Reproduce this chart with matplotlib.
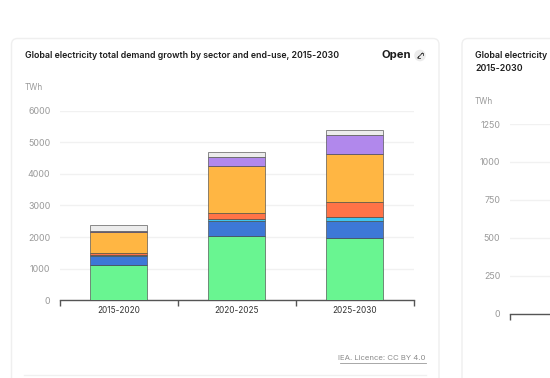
import matplotlib
matplotlib.use("Agg")
import matplotlib.pyplot as plt
from matplotlib.patches import FancyBboxPatch

plt.rcParams["font.family"] = ["Inter", "DejaVu Sans"]

W = 550
H = 378

periods = ["2015-2020", "2020-2025", "2025-2030"]
# stacked segment heights, bottom to top, TWh
green = [1130, 2040, 1960]
blue = [270, 460, 550]
cyan = [20, 80, 130]
red = [90, 190, 470]
yellow = [640, 1490, 1500]
purple = [50, 270, 620]
grey = [170, 170, 160]
segments = [green, blue, cyan, red, yellow, purple, grey]
colors = ["#69f591", "#3d78d6", "#3fc4ee", "#ff7347", "#ffb643", "#b188ec", "#ececec"]

yticks1 = [0, 1000, 2000, 3000, 4000, 5000, 6000]
yticks2 = [0, 250, 500, 750, 1000, 1250]

title1 = "Global electricity total demand growth by sector and end-use, 2015-2030"
title2 = ["Global electricity", "2015-2030"]


def px_axes(fig, x0, y0, x1, y1):
    # axes from pixel box, y measured from the top
    return fig.add_axes([x0 / W, 1 - y1 / H, (x1 - x0) / W, (y1 - y0) / H])


def style_axis(ax, ticks, top):
    ax.set_ylim(0, top)
    ax.set_yticks(ticks)
    ax.set_facecolor("none")
    for s in ["top", "left", "right"]:
        ax.spines[s].set_visible(False)
    ax.spines["bottom"].set_color("#555555")
    ax.spines["bottom"].set_linewidth(1)
    ax.grid(axis="y", color="#f1f1f1", linewidth=1)
    ax.set_axisbelow(True)
    ax.tick_params(axis="y", length=0, pad=6.5, labelsize=6.4, labelcolor="#9a9a9a")
    ax.tick_params(axis="x", length=4.5, width=1, color="#555555")


fig = plt.figure(figsize=(W / 100, H / 100), dpi=100)

bg = fig.add_axes([0, 0, 1, 1])
bg.set_xlim(0, W)
bg.set_ylim(H, 0)
bg.axis("off")
for x0, x1 in [(11.5, 439), (462, 700)]:
    bg.add_patch(FancyBboxPatch((x0, 38.5), x1 - x0, 400, boxstyle="round,pad=0,rounding_size=6",
                                facecolor="white", edgecolor="#efefef", linewidth=1))
bg.plot([24, 426], [374.5, 374.5], color="#f0f0f0", linewidth=1)

bg.text(25, 55.5, title1, fontsize=6.35, fontweight="semibold", color="#1c1c1c", va="center")
bg.text(382, 55.5, "Open", fontsize=8.1, fontweight="bold", color="#1c1c1c", va="center")

# expand icon: grey dot with two small corner arrows
bg.add_patch(plt.Circle((420, 55.5), 5.8, color="#ececec", linewidth=0))
bg.plot([417.5, 422.5], [58, 53], color="#333333", linewidth=0.6)
bg.plot([420.5, 422.5, 422.5], [53, 53, 55], color="#333333", linewidth=0.6)
bg.plot([417.5, 417.5, 419.5], [56, 58, 58], color="#333333", linewidth=0.6)

bg.text(25, 87.5, "TWh", fontsize=5.9, color="#9a9a9a", va="center")
bg.text(426, 358.5, "IEA. Licence: CC BY 4.0", fontsize=5.6, color="#8c8c8c", ha="right", va="center")
bg.plot([340, 426], [362.8, 362.8], color="#9a9a9a", linewidth=0.6)

bg.text(475, 55.5, title2[0], fontsize=6.35, fontweight="semibold", color="#1c1c1c", va="center")
bg.text(475, 68.5, title2[1], fontsize=6.35, fontweight="semibold", color="#1c1c1c", va="center")
bg.text(475, 101, "TWh", fontsize=5.9, color="#9a9a9a", va="center")

# main chart
ax = px_axes(fig, 59.5, 110.5, 413.5, 300.3)
style_axis(ax, yticks1, 6000)
bottom = [0, 0, 0]
for vals, c in zip(segments, colors):
    ax.bar(range(len(periods)), vals, width=0.485, bottom=bottom, color=c,
           edgecolor=(0.25, 0.25, 0.25, 0.6), linewidth=0.7, zorder=3)
    bottom = [b + v for b, v in zip(bottom, vals)]
ax.set_xlim(-0.5, 2.5)
ax.set_xticks([-0.5, 0.5, 1.5, 2.5])
ax.set_xticklabels([])
for i, p in enumerate(periods):
    ax.annotate(p, (i, 0), xytext=(0, -7.5), textcoords="offset points", ha="center", va="center",
                fontsize=5.9, color="#333333")

# second chart, only its left part is on the page
ax2 = px_axes(fig, 509.5, 124, 800, 313.5)
style_axis(ax2, yticks2, 1250)
ax2.set_xlim(0, 1)
ax2.set_xticks([0])
ax2.set_xticklabels([])

fig.savefig("out.png", dpi=100)
